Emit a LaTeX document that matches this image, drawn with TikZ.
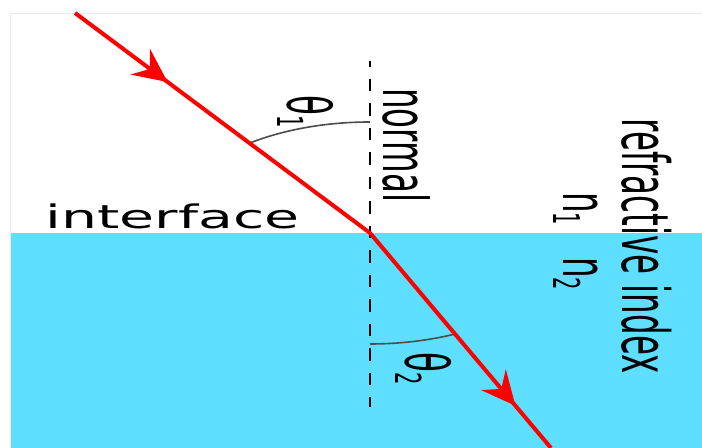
\documentclass[tikz,border=0pt]{standalone}
\usepackage{fontspec}
\setmainfont{DejaVu Sans}
\usetikzlibrary{calc,arrows.meta,decorations.markings}
\definecolor{waterblue}{RGB}{94,223,255}
\newcommand{\subidx}[1]{\raisebox{-2.6pt}{\fontsize{9.7}{11}\selectfont #1}}

\begin{document}
\begin{tikzpicture}[x=0.5pt, y=0.5pt,
        lightray/.style={red, line width=2pt, line join=miter},
        normalline/.style={black, line width=1.25pt, dash pattern=on 6.25pt off 6pt, dash phase=3.25pt},
        anglearc/.style={black!70, line width=0.8pt},
        textlbl/.style={inner sep=0pt, font=\fontsize{16.25}{19}\selectfont},
        sidelbl/.style={textlbl, rotate=-90, yscale=#1, anchor=base west}]
        \def\sx{1.85} \def\rad{111} \def\thetaA{35.93} \def\thetaB{24.47}

        \useasboundingbox (0,0) rectangle (702,448);
        \fill[waterblue] (10,0) rectangle (702,215);
        \draw[black!8] (10,0) -- (10,435) -- (702,435);

        \coordinate (O) at (370,215);
        \coordinate (S) at ($(O)+({-\sx*220*tan(\thetaA)},220)$);
        \coordinate (E) at ($(O)+({\sx*215*tan(\thetaB)},-215)$);
        \coordinate (Ntop) at (370,387);
        \coordinate (Nbot) at (370,41);

        \draw[normalline] (Ntop) -- (Nbot);

        \draw[anglearc] ($(O)+(0,\rad)$) arc[start angle=90, end angle=90+\thetaA, x radius=\sx*\rad, y radius=\rad];
        \draw[anglearc] ($(O)+(0,-\rad)$) arc[start angle=270, end angle=270+\thetaB, x radius=\sx*\rad, y radius=\rad];

        \draw[lightray, postaction={decorate}, decoration={markings,
            mark=at position 0.178 with {\arrow{Stealth[length=17pt, width=16pt, inset=6pt]}},
            mark=at position 0.915 with {\arrow{Stealth[length=17pt, width=16pt, inset=6pt]}}}]
            (S) -- (O) -- (E);

        \node[textlbl, xscale=1.75, anchor=base west] (iface) at (45,219) {interface};
        \node[sidelbl=1.9] (nrm) at (383,360) {normal};
        \node[sidelbl=2.0] (rind) at (622,330) {refractive index};
        \node[sidelbl=1.85] (th1) at (287,353) {θ\subidx{1}};
        \node[sidelbl=1.85] (th2) at (405,96) {θ\subidx{2}};
        \node[sidelbl=1.9] (n1) at (563,256) {n\subidx{1}};
        \node[sidelbl=1.9] (n2) at (563,191) {n\subidx{2}};
    \end{tikzpicture}
\end{document}
